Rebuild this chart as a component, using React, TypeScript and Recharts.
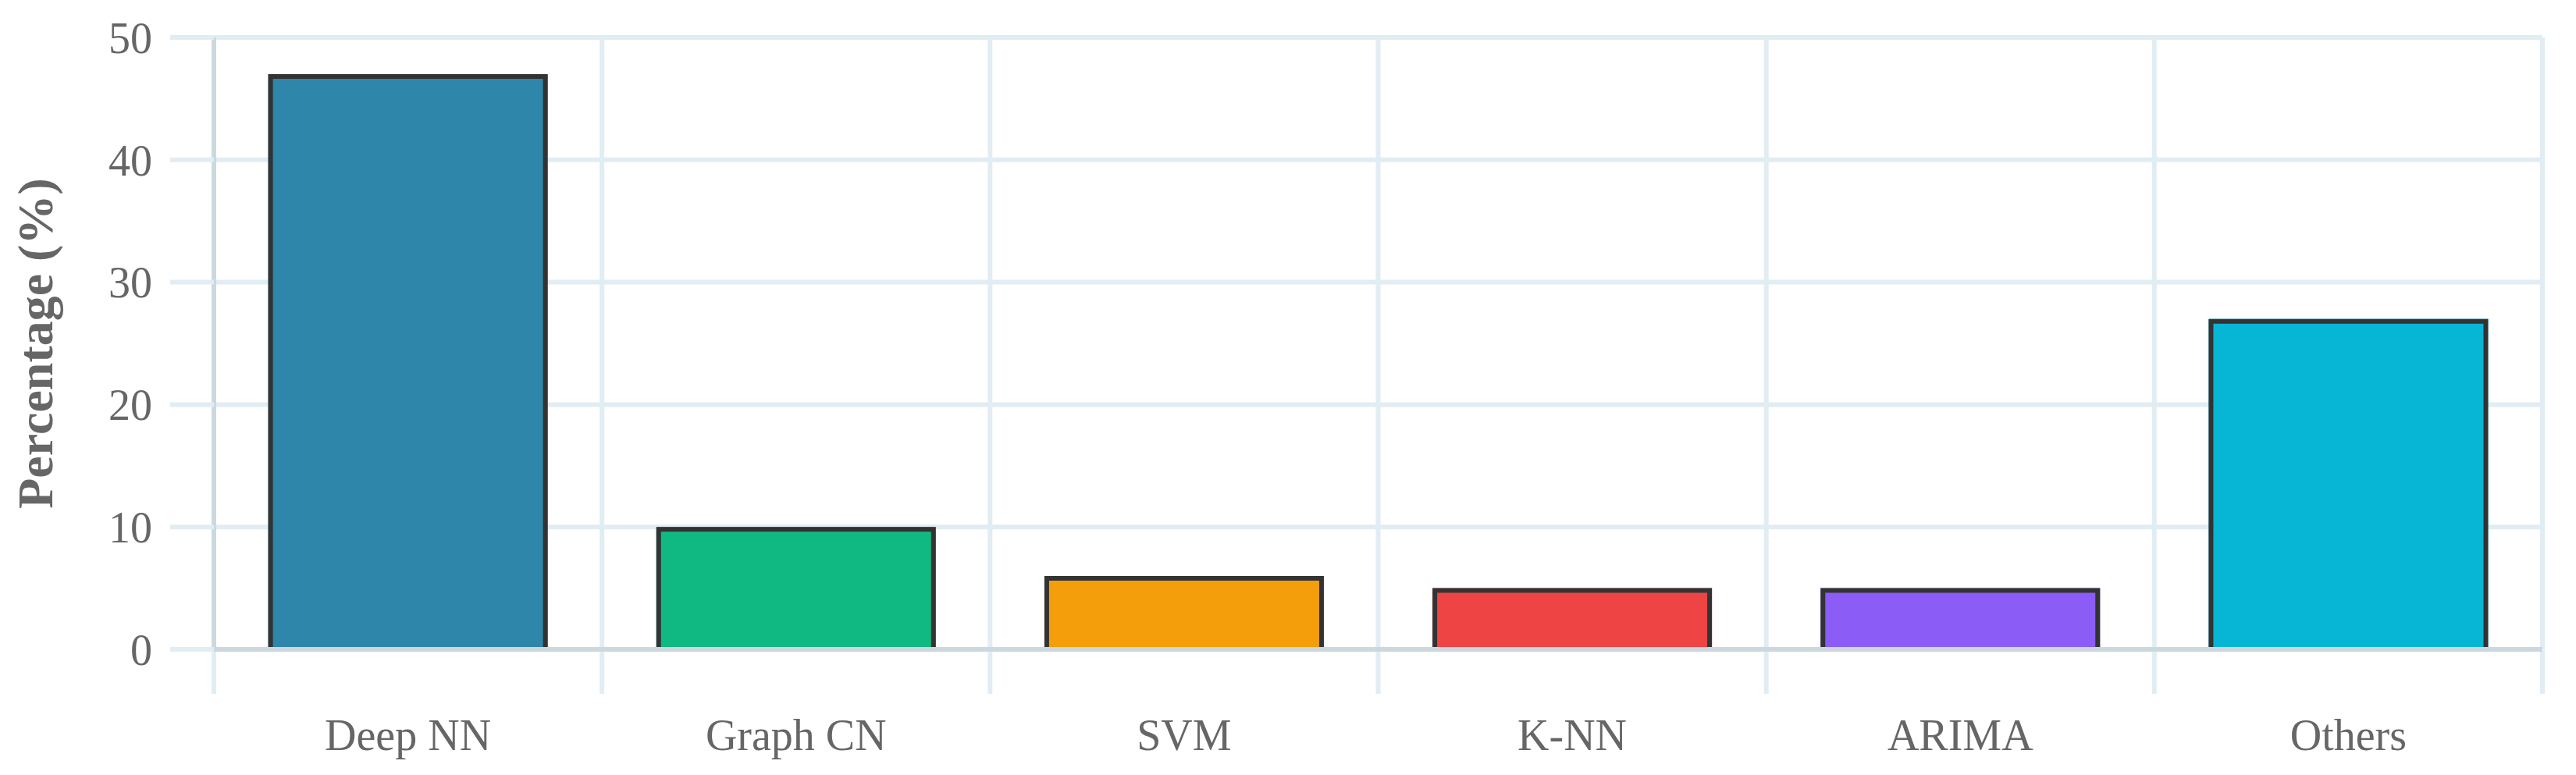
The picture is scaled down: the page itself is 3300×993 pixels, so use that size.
import React from 'react';
import { BarChart, Bar, XAxis, YAxis, CartesianGrid, Cell } from 'recharts';

const categories = ['Deep NN', 'Graph CN', 'SVM', 'K-NN', 'ARIMA', 'Others'];
const percentages = [47, 10, 6, 5, 5, 27];
const barColors = ['#2e86ab', '#10b981', '#f59e0b', '#ef4444', '#8b5cf6', '#06b6d4'];
const yTicks = [0, 10, 20, 30, 40, 50];
// category boundaries, used only for the vertical grid lines
const boundaryTicks = [0, 1, 2, 3, 4, 5, 6];

const GRID = '#e1edf3';
const AXIS = '#ccd8dd';
const FONT = '"Liberation Serif", "Times New Roman", serif';
const BORDER = 6;

// slot = category centre measured in band units (for the boundary axis)
const chartData = categories.map((name, i) => ({ name, value: percentages[i], slot: i + 0.5 }));

// chart.js-like bar: border drawn inside, no border on the base
const BorderedBar = (props: any) => {
  const { x, y, width, height, fill } = props;
  if (!height || height <= 0) return null;
  const h = BORDER / 2;
  return (
    <g>
      <rect x={x} y={y} width={width} height={height} fill={fill} />
      <path
        d={`M${x + h},${y + height} L${x + h},${y + h} L${x + width - h},${y + h} L${x + width - h},${y + height}`}
        fill="none"
        stroke="#333333"
        strokeWidth={BORDER}
      />
    </g>
  );
};

const YLabel = (props: any) => {
  const { viewBox } = props;
  const cx = viewBox.x + 45;
  const cy = viewBox.y + viewBox.height / 2;
  return (
    <text
      x={cx}
      y={cy}
      transform={`rotate(-90, ${cx}, ${cy})`}
      textAnchor="middle"
      dominantBaseline="central"
      fontFamily={FONT}
      fontSize={64}
      fontWeight="bold"
      fill="#666666"
    >
      Percentage (%)
    </text>
  );
};

const App: React.FC = () => {
  return (
    <div style={{ position: 'absolute', left: 0, top: 0, background: '#ffffff' }}>
      <BarChart
        width={3300}
        height={993}
        data={chartData}
        margin={{ top: 48, right: 43, left: 0, bottom: 0 }}
        barCategoryGap="14%"
      >
        <CartesianGrid
          xAxisId="grid"
          stroke={GRID}
          strokeWidth={6}
          horizontalValues={yTicks}
        />
        <XAxis
          xAxisId="grid"
          type="number"
          dataKey="slot"
          domain={[0, 6]}
          ticks={boundaryTicks}
          allowDataOverflow
          height={160}
          axisLine={false}
          tickSize={56}
          tickLine={{ stroke: GRID, strokeWidth: 6 }}
          tick={() => <g />}
          interval={0}
        />
        <XAxis
          xAxisId="cat"
          dataKey="name"
          height={1}
          tickLine={false}
          tickSize={56}
          tickMargin={33}
          axisLine={{ stroke: AXIS, strokeWidth: 6 }}
          tick={{ fontFamily: FONT, fontSize: 56, fill: '#666666' }}
          interval={0}
        />
        <YAxis
          domain={[0, 50]}
          ticks={yTicks}
          width={274}
          tickSize={56}
          tickMargin={23}
          tickLine={{ stroke: GRID, strokeWidth: 6 }}
          axisLine={{ stroke: AXIS, strokeWidth: 6 }}
          tick={{ fontFamily: FONT, fontSize: 56, fill: '#666666' }}
          label={<YLabel />}
        />
        <Bar dataKey="value" xAxisId="cat" isAnimationActive={false} shape={<BorderedBar />}>
          {chartData.map((entry, i) => (
            <Cell key={entry.name} fill={barColors[i]} />
          ))}
        </Bar>
      </BarChart>
    </div>
  );
};

export default App;
